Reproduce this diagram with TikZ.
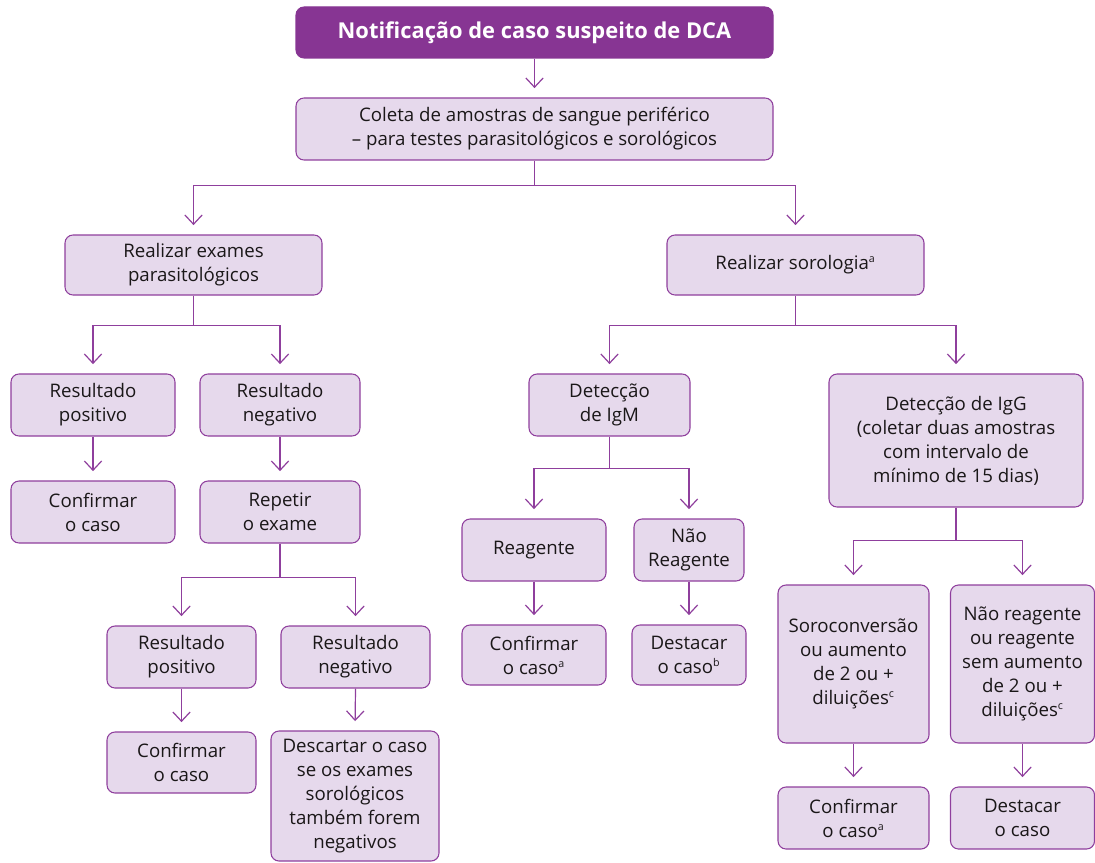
\documentclass[tikz,border=0pt]{standalone}
\usepackage{fontspec}
\setmainfont{Open Sans}
\usepackage{tikz}
\usetikzlibrary{arrows.meta,positioning,calc}
\definecolor{DcaPurple}{HTML}{873593}
\definecolor{DcaLine}{HTML}{8F3F9D}
\definecolor{DcaFill}{HTML}{E6D9EC}
\definecolor{DcaInk}{HTML}{1A1718}

\tikzset{
  box/.style={draw=DcaLine, line width=0.8pt, fill=DcaFill, rounded corners=6pt,
    align=center, inner sep=0pt, text=DcaInk, font=\fontsize{14}{18}\selectfont},
  boxsize/.style 2 args={minimum width=#1*0.75pt, minimum height=#2*0.75pt},
  headbox/.style={box, fill=DcaPurple, draw=DcaPurple, text=white,
    font=\fontsize{16.4}{18}\selectfont\bfseries},
  link/.style={draw=DcaLine, line width=0.9pt},
  linkarrow/.style={link, -{Straight Barb[length=7pt,width=13pt]}, shorten >=7pt}
}
\newcommand{\fnmark}[1]{\textsuperscript{\fontsize{8}{8}\selectfont #1}}

\begin{document}
\begin{tikzpicture}[x=0.75pt, y=-0.75pt]
\useasboundingbox (0,0) rectangle (1095,863);

% top of the chart
\node[headbox, boxsize={477}{51}] (notif) at (534.5,32.5) {Notificação de caso suspeito de DCA};
\node[box, boxsize={477}{62}] (coleta) at (534.5,129) {Coleta de amostras de sangue periférico\\ – para testes parasitológicos e sorológicos};
\node[box, boxsize={257}{60}] (parasit) at (193.5,265) {Realizar exames\\ parasitológicos};
\node[box, boxsize={257}{60}] (sorol) at (795.5,265) {Realizar sorologia\fnmark{a}};

% parasitological branch
\node[box, boxsize={164}{62}] (rpos1) at (93,405) {Resultado\\ positivo};
\node[box, boxsize={160}{62}] (rneg1) at (280,405) {Resultado\\ negativo};
\node[box, boxsize={164}{62}] (conf1) at (93,512) {Confirmar\\ o caso};
\node[box, boxsize={160}{62}] (repetir) at (280,512) {Repetir\\ o exame};
\node[box, boxsize={149}{62}] (rpos2) at (181.5,657) {Resultado\\ positivo};
\node[box, boxsize={149}{62}] (rneg2) at (355.5,657) {Resultado\\ negativo};
\node[box, boxsize={149}{61}] (conf2) at (181.5,762.5) {Confirmar\\ o caso};
\node[box, boxsize={168}{130}] (descartar) at (355,796) {Descartar o caso\\ se os exames\\ sorológicos\\ também forem\\ negativos};

% serological branch
\node[box, boxsize={161}{62}] (igm) at (609.5,405) {Detecção\\ de IgM};
\node[box, boxsize={254}{133}] (igg) at (956,440.5) {Detecção de IgG\\ (coletar duas amostras\\ com intervalo de\\ mínimo de 15 dias)};
\node[box, boxsize={144}{62}] (reag) at (534,550) {Reagente};
\node[box, boxsize={110}{62}] (naoreag) at (689,550) {Não\\ Reagente};
\node[box, boxsize={144}{60}] (conf3) at (534,655) {Confirmar\\ o caso\fnmark{a}};
\node[box, boxsize={114}{60}] (dest1) at (689,655) {Destacar\\ o caso\fnmark{b}};
\node[box, boxsize={151}{158}] (soro) at (853.5,664) {Soroconversão\\ ou aumento\\ de 2 ou +\\ diluições\fnmark{c}};
\node[box, boxsize={144}{158}] (naoreag2) at (1022.5,664) {Não reagente\\ ou reagente\\ sem aumento\\ de 2 ou +\\ diluições\fnmark{c}};
\node[box, boxsize={151}{62}] (conf4) at (853.5,818) {Confirmar\\ o caso\fnmark{a}};
\node[box, boxsize={144}{62}] (dest2) at (1022.5,818) {Destacar\\ o caso};

% straight arrows
\foreach \from/\to in {notif/coleta, rpos1/conf1, rneg1/repetir, rpos2/conf2, rneg2/descartar,
  reag/conf3, naoreag/dest1, soro/conf4, naoreag2/dest2}
  \draw[linkarrow] (\from.south) -- (\to.north);

% splitting arrows
\foreach \from/\drop/\left/\right in {coleta/25/parasit/sorol, parasit/30/rpos1/rneg1,
  repetir/34/rpos2/rneg2, sorol/30/igm/igg, igm/32/reag/naoreag, igg/33/soro/naoreag2}{
  \draw[link] (\from.south) -- ++(0,\drop) coordinate (\from-split);
  \draw[linkarrow] (\from-split) -| (\left.north);
  \draw[linkarrow] (\from-split) -| (\right.north);
}
\end{tikzpicture}
\end{document}
